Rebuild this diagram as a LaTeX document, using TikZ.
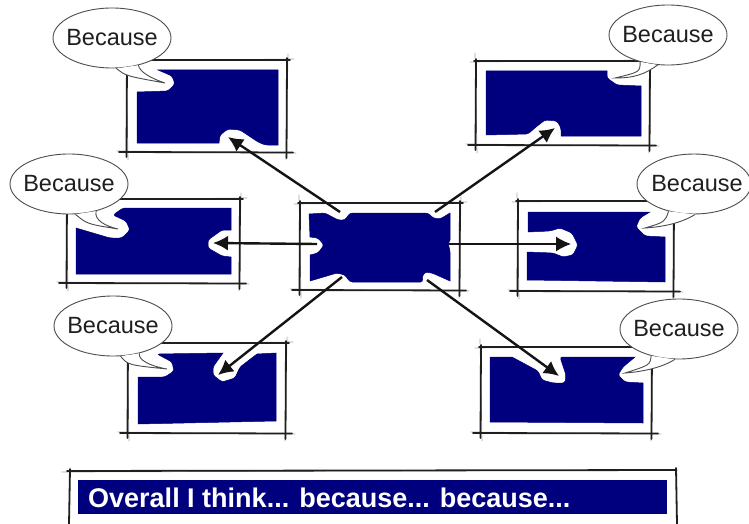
\documentclass[tikz,border=0pt]{standalone}
\usepackage{fontspec}
\setmainfont{Liberation Sans}
\usetikzlibrary{arrows.meta,shapes.geometric}
\definecolor{navyfill}{HTML}{00007F}
\tikzset{
  bluearea/.style={fill=navyfill,draw=navyfill,line width=.5pt,rounded corners=2.5pt},
  frameline/.style={draw=black!88,line width=1.8pt,line cap=round},
  frameghost/.style={draw=black!35,line width=.7pt,line cap=round},
  connector/.style={draw=black!92,line width=2.4pt,-{Latex[length=15pt,width=15pt]}},
  bubble/.style={ellipse,draw=black!70,fill=white,line width=.9pt,inner sep=0pt,minimum width=118pt,minimum height=60pt,font=\fontsize{23.5}{25}\selectfont,text=black!88},
  bubbletail/.style={draw=black!70,fill=white,line width=.9pt},
  barlabel/.style={anchor=west,inner sep=0pt,text=white,font=\bfseries\fontsize{27}{29}\selectfont}
}
\newcommand{\sketchframe}[4]{%
  \draw[frameghost] ({#1-1},{#2-8}) -- ({#1+1},{#4+8});
  \draw[frameghost] ({#3+1},{#2-6}) -- ({#3-1},{#4+8});
  \draw[frameghost] ({#1-6},{#2+1}) -- ({#3+7},{#2-1});
  \draw[frameghost] ({#1-10},{#4-1}) -- ({#3+9},{#4+1});
  \draw[frameline] ({#1},{#2-2}) -- ({#1-.5},{#4+5});
  \draw[frameline] ({#3},{#2-2}) -- ({#3-.5},{#4+6});
  \draw[frameline] ({#1-2},{#2}) -- ({#3+3},{#2});
  \draw[frameline] ({#1-8},{#4}) -- ({#3+6},{#4+.5});
}
\begin{document}
\begin{tikzpicture}[x=1pt,y=-1pt]
\useasboundingbox (0,0) rectangle (749,524);
\fill[white] (0,0) rectangle (749,524);

% frames
\sketchframe{127}{60}{287}{152}
\sketchframe{67}{199}{240}{283}
\sketchframe{300}{203}{460}{290}
\sketchframe{476}{61}{650}{145}
\sketchframe{518}{201}{674}{291}
\sketchframe{481}{347}{652}{433}
\sketchframe{128}{343}{286}{433}

% blue areas: square outer corners, rounded notches
\fill[bluearea] (158,70) -- (172,76) -- (175,84) -- (168,91) [sharp corners] -- (137,92) -- (137,143) -- (219,143) [rounded corners=2.5pt] -- (220,135) -- (228,129) -- (240,130) -- (258,142) -- (265,145) [sharp corners] -- (278,145) -- (278,70) -- cycle;
\fill[bluearea] [sharp corners] (123,208) -- (231,208) -- (231,230) [rounded corners=2.5pt] -- (222,230) -- (208,240) -- (208,248) -- (222,256) [sharp corners] -- (231,257) -- (231,274) -- (76,274) -- (76,228) [rounded corners=2.5pt] -- (110,238) -- (122,238) -- (130,230) -- (126,221) -- (113,215) -- cycle;
\fill[bluearea] [sharp corners] (309,214) [rounded corners=2.5pt] -- (325,213) -- (338,220) -- (345,220) -- (350,213) -- (428,213) -- (433,218) -- (440,219) [sharp corners] -- (450,213) -- (450,240) [rounded corners=2.5pt] -- (448,244) -- (450,250) [sharp corners] -- (450,281) [rounded corners=2.5pt] -- (432,273) -- (425,272) -- (422,277) -- (423,282) -- (350,282) -- (345,275) -- (337,273) [sharp corners] -- (310,281) -- (310,255) [rounded corners=2.5pt] -- (318,253) -- (324,245) -- (318,238) [sharp corners] -- (310,237) -- cycle;
\fill[bluearea] [sharp corners] (486,71) -- (607,71) [rounded corners=2.5pt] -- (607,78) -- (617,85) [sharp corners] -- (641,86) -- (641,136) -- (561,136) [rounded corners=2.5pt] -- (561,128) -- (557,121) -- (545,120) -- (536,127) -- (528,134) [sharp corners] -- (486,135) -- cycle;
\fill[bluearea] [sharp corners] (528,212) -- (650,212) [rounded corners=2.5pt] -- (640,218) -- (636,227) -- (645,236) [sharp corners] -- (665,237) -- (665,282) -- (527,280) -- (527,252) [rounded corners=2.5pt] -- (553,253) -- (563,257) -- (573,255) -- (578,245) -- (572,233) -- (560,228) -- (550,231) [sharp corners] -- (528,232) -- cycle;
\fill[bluearea] [sharp corners] (490,357) -- (512,357) [rounded corners=2.5pt] -- (538,371) -- (542,380) -- (553,383) -- (565,383) -- (566,375) -- (560,357) [sharp corners] -- (635,357) [rounded corners=2.5pt] -- (623,367) -- (618,375) -- (625,382) [sharp corners] -- (643,383) -- (643,423) -- (490,422) -- cycle;
\fill[bluearea] [sharp corners] (157,354) -- (223,353) [rounded corners=2.5pt] -- (213,367) -- (213,375) -- (222,382) -- (235,378) -- (240,367) [sharp corners] -- (257,354) -- (276,353) -- (276,421) -- (138,424) -- (138,377) [rounded corners=2.5pt] -- (165,377) -- (174,371) -- (172,362) -- cycle;

% connector ends
\coordinate (cNW) at (340,212);
\coordinate (cNE) at (435,212);
\coordinate (cW) at (317,244);
\coordinate (cE) at (448,244);
\coordinate (cSW) at (342,277);
\coordinate (cSE) at (427,280);
\coordinate (tTL) at (228,137);
\coordinate (tTR) at (555,128);
\coordinate (tML) at (213,243);
\coordinate (tMR) at (571,244);
\coordinate (tBL) at (218,375);
\coordinate (tBR) at (559,376);

\draw[connector] (cNW) -- (tTL);
\draw[connector] (cNE) -- (tTR);
\draw[connector] (cW) -- (tML);
\draw[connector,line width=1.5pt] (cE) -- (tMR);
\draw[connector] (cSW) -- (tBL);
\draw[connector] (cSE) -- (tBR);

% bubbles
\node[bubble] (bTL) at (112,38) {\makebox[0pt]{\raisebox{-4pt}{Because}}};
\draw[bubbletail] (bTL.-82) .. controls (126,76) .. (165,83) .. controls (150,78) and (140,72) .. (bTL.-46);
\node[bubble] (bTR) at (668,35) {\makebox[0pt]{Because}};
\draw[bubbletail] (bTR.-136) .. controls (640,72) .. (615,78) .. controls (635,78) and (645,74) .. (bTR.-109);
\node[bubble] (bML) at (69,184) {\makebox[0pt]{\raisebox{-4pt}{Because}}};
\draw[bubbletail] (bML.-78) .. controls (87,224) .. (118,229) .. controls (105,226) and (94,220) .. (bML.-45);
\node[bubble,minimum width=114pt] (bMR) at (694,184) {\makebox[0pt]{\hspace{6pt}\raisebox{-2pt}{Because}}};
\draw[bubbletail] (bMR.-133) .. controls (665,222) .. (645,228) .. controls (660,227) and (680,224) .. (bMR.-88);
\node[bubble] (bBL) at (113,326) {\makebox[0pt]{Because}};
\draw[bubbletail] (bBL.-76) .. controls (128,365) .. (167,369) .. controls (150,366) and (138,360) .. (bBL.-46);
\node[bubble] (bBR) at (679,329) {\makebox[0pt]{\raisebox{-2pt}{Because}}};
\draw[bubbletail] (bBR.-136) .. controls (650,365) .. (625,373) .. controls (640,372) and (662,368) .. (bBR.-98);

% bottom bar
\draw[frameghost] (62,472) -- (678,470);
\draw[frameline] (67,471) -- (676,470);
\draw[frameline] (70,469) -- (69,524);
\draw[frameline] (676,468) -- (677,524);
\node[fill=navyfill,minimum width=589pt,minimum height=34pt,inner sep=0pt,anchor=north west] (bar) at (78,480) {};
\node[barlabel] (barText) at (88,497.5) {Overall I think... because... because...};
\end{tikzpicture}
\end{document}
